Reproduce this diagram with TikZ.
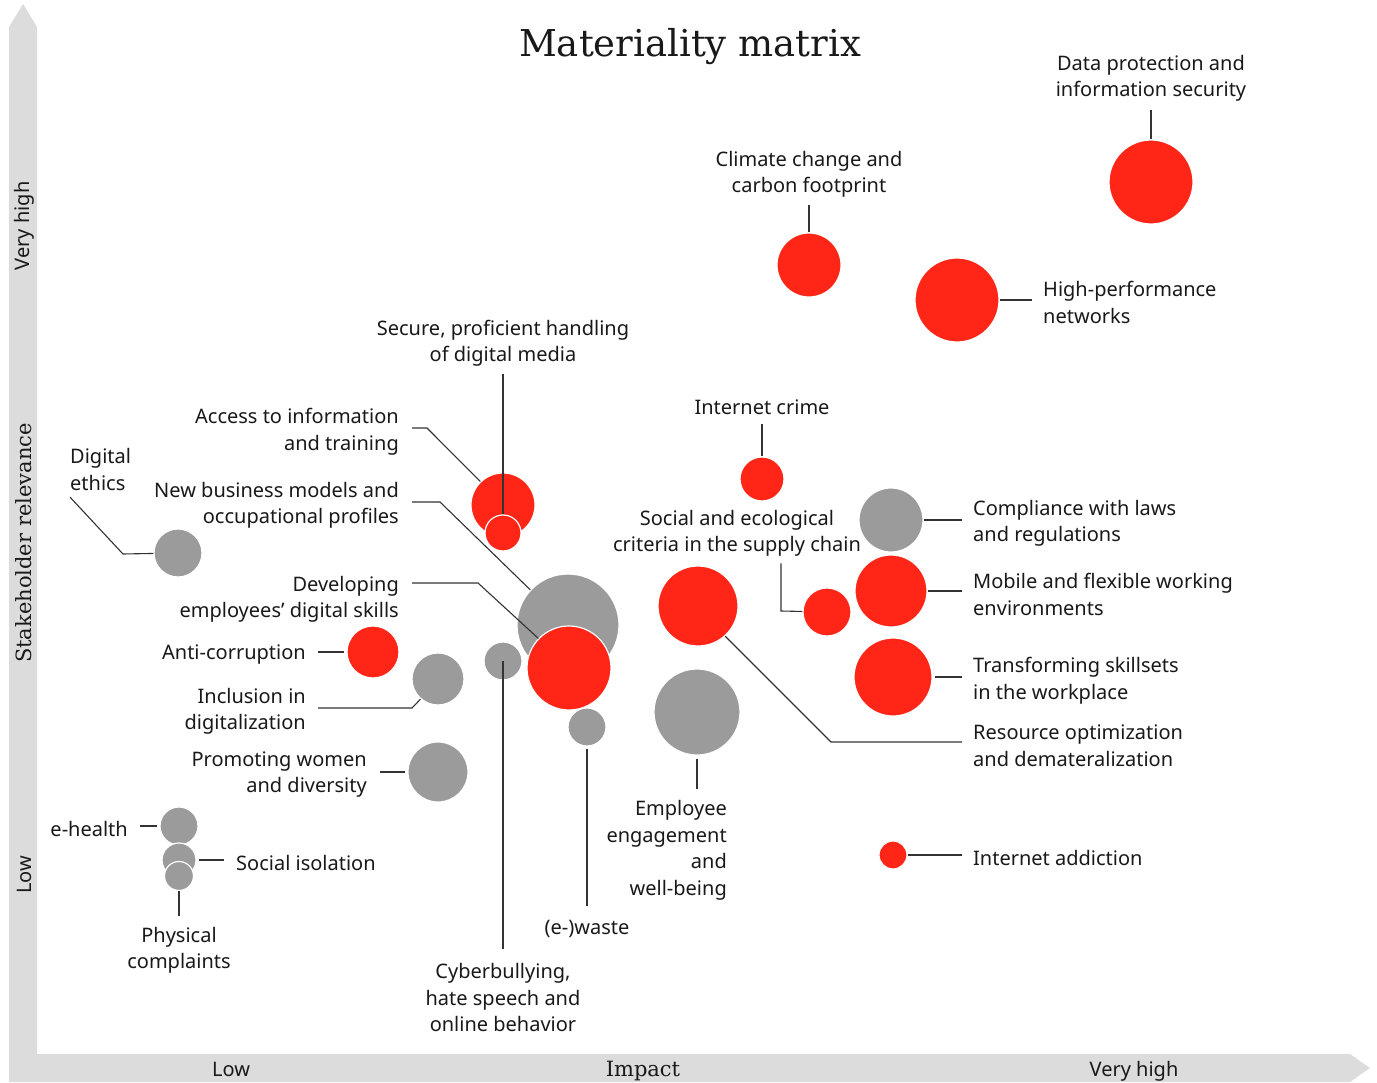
\documentclass[tikz,border=0pt]{standalone}
\usepackage{fontspec}
\setsansfont{Noto Sans}
\newfontfamily\slabfont{DejaVu Serif}
\definecolor{matred}{HTML}{FF2618}
\definecolor{matgray}{HTML}{9B9B9B}
\definecolor{axisgray}{HTML}{DCDCDC}

\begin{document}
\begin{tikzpicture}[x=1pt,y=-1pt,
  redbub/.style={circle,fill=matred,draw=white,line width=1.2pt,inner sep=0pt,minimum size=#1},
  graybub/.style={circle,fill=matgray,draw=white,line width=1.2pt,inner sep=0pt,minimum size=#1},
  lbl/.style={font=\sffamily\fontsize{20}{26.5}\selectfont,text=black!90,inner sep=0pt,yshift=-2.5pt},
  axlbl/.style={font=\sffamily\fontsize{20}{24}\selectfont,text=black!90,inner sep=0pt},
  serlbl/.style={font=\slabfont\fontsize{21}{24}\selectfont,text=black!90,inner sep=0pt},
  leader/.style={draw=black!80,line width=1.1pt}]

  \useasboundingbox (0,0) rectangle (1377,1083);
  \fill[white] (0,0) rectangle (1377,1083);

  % axes
  \fill[axisgray] (9,1082) -- (9,27) -- (23,4) -- (37,27) -- (37,1054)
    -- (1350,1054) -- (1370,1068) -- (1350,1082) -- cycle;
  \node[serlbl,rotate=90] (ylbl) at (24,543) {Stakeholder relevance};
  \node[serlbl,anchor=base] (xlbl) at (643,1076) {Impact};
  \node[axlbl,rotate=90] (yhigh) at (24,226) {Very high};
  \node[axlbl,rotate=90] (ylow) at (24,875) {Low};
  \node[axlbl,anchor=base] (xlow) at (231,1076) {Low};
  \node[axlbl,anchor=base] (xhigh) at (1134,1076) {Very high};

  \node[font=\slabfont\fontsize{37}{44}\selectfont,text=black!90,inner sep=0pt] (title) at (690,47) {Materiality matrix};

  % bubbles
  \node[redbub=84pt] (dataprot) at (1151,182) {};
  \node[redbub=64pt] (climate) at (809,265) {};
  \node[redbub=84pt] (highperf) at (957,300) {};
  \node[redbub=64pt] (access) at (503,505) {};
  \node[redbub=36pt] (secure) at (503,533) {};
  \node[graybub=48pt] (digethics) at (178,553) {};
  \node[graybub=102pt] (newbiz) at (568,625) {};
  \node[redbub=84pt] (devskills) at (569,668) {};
  \node[redbub=52pt] (anticorr) at (373,652) {};
  \node[graybub=52pt] (inclusion) at (438,679) {};
  \node[graybub=38pt] (cyber) at (503,661) {};
  \node[graybub=38pt] (ewaste) at (587,727) {};
  \node[graybub=60pt] (women) at (438,772) {};
  \node[graybub=38pt] (ehealth) at (179,826) {};
  \node[graybub=34pt] (isolation) at (179,860) {};
  \node[graybub=29pt] (physical) at (179,876) {};
  \node[redbub=44pt] (netcrime) at (762,479) {};
  \node[redbub=80pt] (resource) at (698,606) {};
  \node[graybub=86pt] (employee) at (697,712) {};
  \node[redbub=48pt] (supply) at (827,612) {};
  \node[graybub=64pt] (compliance) at (891,520) {};
  \node[redbub=72pt] (mobile) at (891,591) {};
  \node[redbub=78pt] (transform) at (893,677) {};
  \node[redbub=28pt] (addiction) at (893,855) {};

  % labels
  \node[lbl,align=center] (dataprotlbl) at (1151,76) {Data protection and\\information security};
  \node[lbl,align=center] (climatelbl) at (809,172) {Climate change and\\carbon footprint};
  \node[lbl,align=left,anchor=west] (highperflbl) at (1043,300) {High-performance\\networks};
  \node[lbl,align=center] (securelbl) at (503,341) {Secure, proficient handling\\of digital media};
  \node[lbl,align=right,anchor=east] (accesslbl) at (399,429) {Access to information\\and training};
  \node[lbl,align=left,anchor=west] (digethicslbl) at (70,467) {Digital\\ethics};
  \node[lbl,align=right,anchor=east] (newbizlbl) at (399,503) {New business models and\\occupational profiles};
  \node[lbl,align=right,anchor=east] (devskillslbl) at (399,597) {Developing\\employees’ digital skills};
  \node[lbl,anchor=east] (anticorrlbl) at (306,652) {Anti-corruption};
  \node[lbl,align=right,anchor=east] (inclusionlbl) at (306,709) {Inclusion in\\digitalization};
  \node[lbl,align=right,anchor=east] (womenlbl) at (367,772) {Promoting women\\and diversity};
  \node[lbl,anchor=east] (ehealthlbl) at (128,826) {e-health};
  \node[lbl,anchor=west] (isolationlbl) at (236,860) {Social isolation};
  \node[lbl,align=center] (physicallbl) at (179,948) {Physical\\complaints};
  \node[lbl,align=center] (cyberlbl) at (503,995) {Cyberbullying,\\hate speech and\\online behavior};
  \node[lbl] (ewastelbl) at (587,926) {(e-)waste};
  \node[lbl,align=right,anchor=east] (employeelbl) at (727,848) {Employee\\engagement\\and\\well-being};
  \node[lbl] (netcrimelbl) at (762,405) {Internet crime};
  \node[lbl,align=center] (supplylbl) at (737,531) {Social and ecological\\criteria in the supply chain};
  \node[lbl,align=left,anchor=west] (compliancelbl) at (973,521) {Compliance with laws\\and regulations};
  \node[lbl,align=left,anchor=west] (mobilelbl) at (973,592) {Mobile and flexible working\\environments};
  \node[lbl,align=left,anchor=west] (transformlbl) at (973,678) {Transforming skillsets\\in the workplace};
  \node[lbl,align=left,anchor=west] (resourcelbl) at (973,743) {Resource optimization\\and demateralization};
  \node[lbl,anchor=west] (addictionlbl) at (973,855) {Internet addiction};

  % leaders
  \coordinate (accessbend) at (427,428);
  \coordinate (newbizbend) at (440,502);
  \coordinate (devskillsbend) at (478,583);
  \coordinate (inclusionbend) at (412,708);
  \coordinate (digethicsbend) at (123,554);
  \coordinate (supplybend) at (781,611);
  \coordinate (resourcebend) at (831,742);

  \draw[leader,shorten >=8.5pt] (dataprot) -- (dataprotlbl);
  \draw[leader,shorten >=7.5pt] (climate) -- (climatelbl);
  \draw[leader,shorten >=11pt] (highperf) -- (highperf -| highperflbl.west);
  \draw[leader,shorten <=7.5pt] (securelbl) -- (secure);
  \draw[leader,shorten <=13pt] (accesslbl.east |- accessbend) -- (accessbend) -- (access.134);
  \draw[leader,shorten <=13pt] (newbizlbl.east |- newbizbend) -- (newbizbend) -- (newbiz.137);
  \draw[leader,shorten <=13pt] (devskillslbl.east |- devskillsbend) -- (devskillsbend) -- (devskills.136);
  \draw[leader,shorten <=12pt,shorten >=2pt] (anticorrlbl.east |- anticorr) -- (anticorr);
  \draw[leader,shorten <=12pt] (inclusionlbl.east |- inclusionbend) -- (inclusionbend) -- (inclusion.229);
  \draw[leader,shorten <=13pt,shorten >=2pt] (womenlbl.east |- women) -- (women);
  \draw[leader,shorten <=12pt,shorten >=2pt] (ehealthlbl.east |- ehealth) -- (ehealth);
  \draw[leader,shorten <=2pt,shorten >=12pt] (isolation) -- (isolation -| isolationlbl.west);
  \draw[leader,shorten >=11.5pt] (physical) -- (physicallbl);
  \draw[leader,shorten >=14.5pt] (cyber.center) -- (cyberlbl);
  \draw[leader,shorten <=2pt,shorten >=13.5pt] (ewaste) -- (ewastelbl);
  \draw[leader,shorten <=3pt,shorten >=12pt] (employee.south) -- (employee.south |- employeelbl.north);
  \draw[leader,shorten >=8.5pt] (netcrime) -- (netcrimelbl);
  \draw[leader,shorten <=6.5pt] (supplybend |- supplylbl.south) -- (supplybend) -- (supply);
  \draw[leader] (resource.312) -- (resourcebend) -- ([xshift=-11pt]resourcebend -| resourcelbl.west);
  \draw[leader,shorten >=11pt] (compliance) -- (compliance -| compliancelbl.west);
  \draw[leader,shorten >=11pt] (mobile) -- (mobile -| mobilelbl.west);
  \draw[leader,shorten <=2pt,shorten >=11pt] (transform) -- (transform -| transformlbl.west);
  \draw[leader,shorten >=11pt] (addiction) -- (addiction -| addictionlbl.west);
  \draw[leader] ([yshift=-6.5pt]digethicslbl.south west) -- (digethicsbend) -- (digethics);

\end{tikzpicture}
\end{document}
